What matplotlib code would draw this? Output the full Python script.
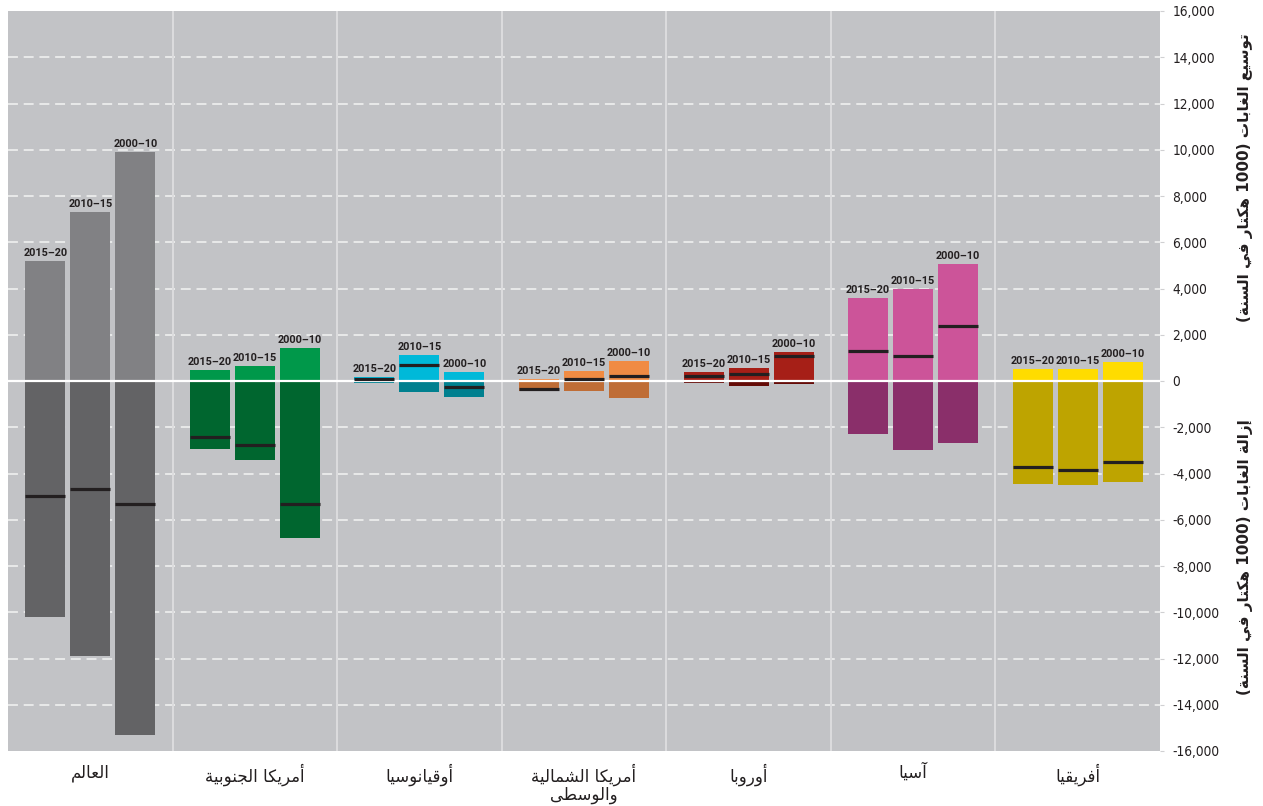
import re
import numpy as np
import matplotlib
matplotlib.use("Agg")
import matplotlib.pyplot as plt

# ---------------- data ----------------
regions = ['العالم', 'أمريكا الجنوبية', 'أوقيانوسيا', 'أمريكا الشمالية\nوالوسطى',
           'أوروبا', 'آسيا', 'أفريقيا']
periods = ['2015–20', '2010–15', '2000–10']

expansion_world = [5200, 7300, 9900]
expansion_south_america = [480, 650, 1430]
expansion_oceania = [170, 1130, 390]
expansion_nc_america = [100, 430, 870]
expansion_europe = [390, 570, 1260]
expansion_asia = [3570, 3960, 5040]
expansion_africa = [500, 500, 830]

deforest_world = [-10200, -11900, -15300]
deforest_south_america = [-2950, -3430, -6780]
deforest_oceania = [-70, -480, -680]
deforest_nc_america = [-450, -430, -740]
deforest_europe = [-90, -220, -120]
deforest_asia = [-2280, -2970, -2700]
deforest_africa = [-4460, -4500, -4370]

net_world = [-4960, -4680, -5300]
net_south_america = [-2400, -2780, -5300]
net_oceania = [90, 680, -270]
net_nc_america = [-360, 100, 200]
net_europe = [230, 290, 1090]
net_asia = [1300, 1060, 2400]
net_africa = [-3740, -3870, -3500]

yticks = list(range(-16000, 16001, 2000))
ylabel_top = 'توسيع الغابات (1000 هكتار في السنة)'
ylabel_bottom = 'إزالة الغابات (1000 هكتار في السنة)'

expansion = [expansion_world, expansion_south_america, expansion_oceania,
             expansion_nc_america, expansion_europe, expansion_asia, expansion_africa]
deforest = [deforest_world, deforest_south_america, deforest_oceania,
            deforest_nc_america, deforest_europe, deforest_asia, deforest_africa]
net = [net_world, net_south_america, net_oceania, net_nc_america,
       net_europe, net_asia, net_africa]

col_exp = ['#818184', '#00984a', '#00b9d9', '#f08b43', '#a61f17', '#cc5499', '#ffdc00']
col_def = ['#636365', '#00662f', '#00808f', '#bf6d36', '#640b07', '#8a2f6a', '#bea400']

# ---------------- minimal Arabic shaping ----------------
_F = {
    '\u0621': ('\uFE80', None, None, None),
    '\u0622': ('\uFE81', '\uFE82', None, None),
    '\u0623': ('\uFE83', '\uFE84', None, None),
    '\u0624': ('\uFE85', '\uFE86', None, None),
    '\u0625': ('\uFE87', '\uFE88', None, None),
    '\u0626': ('\uFE89', '\uFE8A', '\uFE8B', '\uFE8C'),
    '\u0627': ('\uFE8D', '\uFE8E', None, None),
    '\u0628': ('\uFE8F', '\uFE90', '\uFE91', '\uFE92'),
    '\u0629': ('\uFE93', '\uFE94', None, None),
    '\u062A': ('\uFE95', '\uFE96', '\uFE97', '\uFE98'),
    '\u062B': ('\uFE99', '\uFE9A', '\uFE9B', '\uFE9C'),
    '\u062C': ('\uFE9D', '\uFE9E', '\uFE9F', '\uFEA0'),
    '\u062D': ('\uFEA1', '\uFEA2', '\uFEA3', '\uFEA4'),
    '\u062E': ('\uFEA5', '\uFEA6', '\uFEA7', '\uFEA8'),
    '\u062F': ('\uFEA9', '\uFEAA', None, None),
    '\u0630': ('\uFEAB', '\uFEAC', None, None),
    '\u0631': ('\uFEAD', '\uFEAE', None, None),
    '\u0632': ('\uFEAF', '\uFEB0', None, None),
    '\u0633': ('\uFEB1', '\uFEB2', '\uFEB3', '\uFEB4'),
    '\u0634': ('\uFEB5', '\uFEB6', '\uFEB7', '\uFEB8'),
    '\u0635': ('\uFEB9', '\uFEBA', '\uFEBB', '\uFEBC'),
    '\u0636': ('\uFEBD', '\uFEBE', '\uFEBF', '\uFEC0'),
    '\u0637': ('\uFEC1', '\uFEC2', '\uFEC3', '\uFEC4'),
    '\u0638': ('\uFEC5', '\uFEC6', '\uFEC7', '\uFEC8'),
    '\u0639': ('\uFEC9', '\uFECA', '\uFECB', '\uFECC'),
    '\u063A': ('\uFECD', '\uFECE', '\uFECF', '\uFED0'),
    '\u0641': ('\uFED1', '\uFED2', '\uFED3', '\uFED4'),
    '\u0642': ('\uFED5', '\uFED6', '\uFED7', '\uFED8'),
    '\u0643': ('\uFED9', '\uFEDA', '\uFEDB', '\uFEDC'),
    '\u0644': ('\uFEDD', '\uFEDE', '\uFEDF', '\uFEE0'),
    '\u0645': ('\uFEE1', '\uFEE2', '\uFEE3', '\uFEE4'),
    '\u0646': ('\uFEE5', '\uFEE6', '\uFEE7', '\uFEE8'),
    '\u0647': ('\uFEE9', '\uFEEA', '\uFEEB', '\uFEEC'),
    '\u0648': ('\uFEED', '\uFEEE', None, None),
    '\u0649': ('\uFEEF', '\uFEF0', None, None),
    '\u064A': ('\uFEF1', '\uFEF2', '\uFEF3', '\uFEF4'),
}
_LA = {'\u0622': ('\uFEF5', '\uFEF6'), '\u0623': ('\uFEF7', '\uFEF8'),
       '\u0625': ('\uFEF9', '\uFEFA'), '\u0627': ('\uFEFB', '\uFEFC')}


def _joins_next(c):
    return c in _F and _F[c][2] is not None


def _joins_prev(c):
    return c in _F and _F[c][1] is not None


def _shape_line(s):
    out = []
    i = 0
    n = len(s)
    while i < n:
        c = s[i]
        prev = s[i - 1] if i > 0 else ''
        nxt = s[i + 1] if i + 1 < n else ''
        if c == '\u0644' and nxt in _LA:
            out.append(_LA[nxt][1] if _joins_next(prev) else _LA[nxt][0])
            i += 2
            continue
        if c in _F:
            jp = _joins_next(prev) and _joins_prev(c)
            jn = _joins_next(c) and _joins_prev(nxt)
            iso, fin, ini, med = _F[c]
            if jp and jn:
                out.append(med)
            elif jp:
                out.append(fin)
            elif jn:
                out.append(ini)
            else:
                out.append(iso)
        else:
            out.append(c)
        i += 1
    r = ''.join(out)[::-1]
    r = re.sub(r'[0-9][0-9,.]*[0-9]|[0-9]', lambda m: m.group(0)[::-1], r)
    r = r.translate(str.maketrans({'(': ')', ')': '('}))
    return r


def ar(text):
    return '\n'.join(_shape_line(l) for l in text.split('\n'))


# ---------------- figure ----------------
W, H = 1263, 806
fig = plt.figure(figsize=(W / 100, H / 100), dpi=100)
fig.patch.set_facecolor('white')
ax = fig.add_axes([8 / W, 1 - 751 / H, (1160 - 8) / W, (751 - 11) / H])
ax.set_facecolor('#c2c3c6')
ax.set_xlim(0, len(regions))
ax.set_ylim(-16000, 16000)

for sp in ax.spines.values():
    sp.set_visible(False)

# grid lines
for t in yticks:
    if t == 0 or abs(t) == 16000:
        continue
    ax.axhline(t, color='#ececec', lw=1.3, ls=(0, (5.5, 3.2)), zorder=1)
for k in range(1, len(regions)):
    ax.axvline(k, color='#dcdcde', lw=1.4, zorder=1)

bw = 40 / 164.6
off = 45 / 164.6
for i in range(len(regions)):
    for j in range(len(periods)):
        x = i + 0.5 + (j - 1) * off
        ax.bar(x, expansion[i][j], width=bw, color=col_exp[i], zorder=3, linewidth=0)
        ax.bar(x, deforest[i][j], width=bw, color=col_def[i], zorder=3, linewidth=0)
        ax.plot([x - bw / 2, x + bw / 2], [net[i][j], net[i][j]], color='#231f20',
                lw=2.3, solid_capstyle='butt', zorder=5)
        ax.annotate(periods[j], (x, expansion[i][j]), xytext=(0, 2.2),
                    textcoords='offset points', ha='center', va='bottom',
                    fontsize=7.8, fontweight='bold', color='#231f20',
                    family='Roboto', zorder=6)

ax.axhline(0, color='white', lw=1.6, zorder=4)

# y axis on right
ax.yaxis.tick_right()
ax.set_yticks(yticks, labels=[f'{t:,}' for t in yticks])
ax.tick_params(axis='y', length=3, color='#d0d0d2', pad=6, labelsize=9.8,
               labelcolor='#231f20')
for lab in ax.get_yticklabels():
    lab.set_family('DejaVu Sans')
    lab.set_fontstretch('condensed')
ax.set_xticks([])

# category labels
for i, name in enumerate(regions):
    ax.annotate(ar(name), (i + 0.5, 0), xycoords=('data', 'axes fraction'),
                xytext=(0, -9), textcoords='offset points', ha='center', va='top',
                fontsize=12, family='DejaVu Sans', color='#231f20',
                linespacing=1.0)

# y axis titles
fig.text(1245 / W, 1 - 178 / H, ar(ylabel_top), rotation=90, ha='center', va='center',
         fontsize=11, fontweight='bold', family='DejaVu Sans', color='#231f20')
fig.text(1245 / W, 1 - 557 / H, ar(ylabel_bottom), rotation=90, ha='center', va='center',
         fontsize=11, fontweight='bold', family='DejaVu Sans', color='#231f20')

fig.savefig('out.png', dpi=100, facecolor='white')
